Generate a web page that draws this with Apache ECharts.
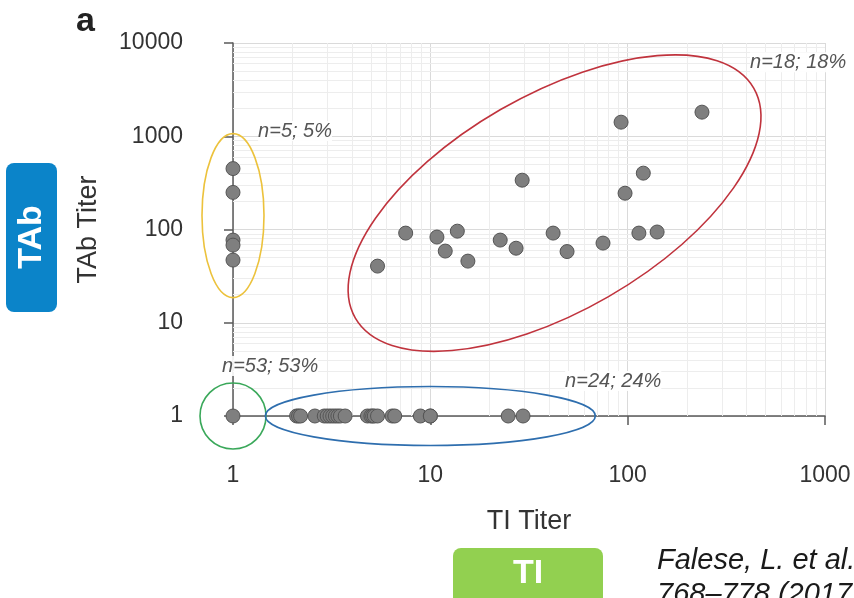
<!DOCTYPE html>
<html>
<head>
<meta charset="utf-8">
<script src="https://cdn.jsdelivr.net/npm/echarts@6/dist/echarts.min.js"></script>
<style>
  html, body { margin: 0; padding: 0; background: #fff; }
  #main { width: 854px; height: 598px; }
</style>
</head>
<body>
<div id="main"></div>
<script>
var FONT = '"Liberation Sans", Arial, sans-serif';

// TAb-only (TI titer = 1)
var tabOnlyY = [450, 250, 77, 68, 47];
// TI-only (TAb titer = 1)
var tiOnlyX = [2.1, 2.15, 2.2, 2.6, 2.9, 3.0, 3.1, 3.2, 3.3, 3.4, 3.5, 3.7,
               4.8, 5.0, 5.1, 5.2, 5.4, 6.4, 6.6, 8.9, 10, 10, 24.8, 29.5];
// both positive
var bothTI  = [5.4, 7.5, 10.8, 11.9, 13.7, 15.5, 22.6, 27.2, 29.2, 41.9, 49.3, 75, 92.6, 97, 114, 120, 141, 238];
var bothTAb = [40.5, 91.5, 83, 58.7, 96, 45.8, 77, 63, 338, 91.5, 58, 71.5, 1416, 245, 91.5, 402, 94, 1813];
// both negative
var negPoint = [1, 1];

var xTicks = [1, 10, 100, 1000];
var yTicks = [1, 10, 100, 1000, 10000];
var minorX = [2, 3, 4, 5, 6, 7, 8, 9, 20, 30, 40, 50, 60, 70, 80, 90,
              200, 300, 400, 500, 600, 700, 800, 900];
var minorY = [2, 3, 4, 5, 6, 7, 8, 9, 20, 30, 40, 50, 60, 70, 80, 90,
              200, 300, 400, 500, 600, 700, 800, 900,
              2000, 3000, 4000, 5000, 6000, 7000, 8000, 9000];

var points = [negPoint];
tabOnlyY.forEach(function (v) { points.push([1, v]); });
tiOnlyX.forEach(function (v) { points.push([v, 1]); });
bothTI.forEach(function (v, i) { points.push([v, bothTAb[i]]); });

var axisCol = '#5a5a5a';
function plain(v) { return String(Math.round(v)); }

var chart = echarts.init(document.getElementById('main'));
var option = {
  animation: false,
  backgroundColor: '#fff',
  grid: { left: 233, right: 29, top: 43, bottom: 182 },
  xAxis: {
    type: 'log', logBase: 10, min: xTicks[0], max: xTicks[xTicks.length - 1],
    name: 'TI Titer', nameLocation: 'middle', nameGap: 92,
    nameTextStyle: { fontSize: 27, color: '#333', fontFamily: FONT },
    axisLine: { show: true, onZero: false, lineStyle: { color: axisCol, width: 1.5 } },
    axisTick: { show: true, length: 9, lineStyle: { color: axisCol, width: 1.5 } },
    axisLabel: { margin: 48, fontSize: 23, color: '#333', fontFamily: FONT, formatter: plain },
    splitLine: { show: true, lineStyle: { color: '#dadada', width: 1 } }
  },
  yAxis: {
    type: 'log', logBase: 10, min: yTicks[0], max: yTicks[yTicks.length - 1],
    name: 'TAb Titer', nameLocation: 'middle', nameGap: 131, nameRotate: 90,
    nameTextStyle: { fontSize: 27, color: '#333', fontFamily: FONT },
    axisLine: { show: true, onZero: false, lineStyle: { color: axisCol, width: 1.5 } },
    axisTick: { show: true, length: 9, lineStyle: { color: axisCol, width: 1.5 } },
    axisLabel: { margin: 50, fontSize: 23, color: '#333', fontFamily: FONT, formatter: plain },
    splitLine: { show: true, lineStyle: { color: '#dadada', width: 1 } }
  },
  series: [
    {
      type: 'scatter', data: [], z: 1, silent: true,
      markLine: {
        silent: true, symbol: 'none', label: { show: false },
        lineStyle: { color: '#ededed', width: 1, type: 'solid' },
        data: minorX.map(function (v) { return { xAxis: v }; })
          .concat(minorY.map(function (v) { return { yAxis: v }; }))
      }
    },
    {
      type: 'scatter', z: 5,
      data: points,
      symbolSize: 14,
      itemStyle: { color: '#7f7f7f', borderColor: '#555', borderWidth: 1, opacity: 1 }
    }
  ]
};
chart.setOption(option);

// annotation ellipses: centre in data units, radii in px
var rings = [
  { c: [1, 141], rx: 31, ry: 82, rot: 0, color: '#ecc23c' },
  { c: [42.6, 192], rx: 230, ry: 108, rot: 30, color: '#c0333d' },
  { c: [1, 1], rx: 33, ry: 33, rot: 0, color: '#3aa85a' },
  { c: [10, 1], rx: 165, ry: 29.5, rot: 0, color: '#2e6eae' }
];
var notes = [
  { at: [1.34, 1135], text: 'n=5; 5%' },
  { at: [417, 6225], text: 'n=18; 18%' },
  { at: [0.88, 3.43], text: 'n=53; 53%' },
  { at: [48.2, 2.37], text: 'n=24; 24%' }
];

function px(p) { return chart.convertToPixel({ gridIndex: 0 }, p); }

var graphics = [];
rings.forEach(function (r) {
  var c = px(r.c);
  graphics.push({
    type: 'ellipse', x: c[0], y: c[1], rotation: r.rot * Math.PI / 180,
    shape: { cx: 0, cy: 0, rx: r.rx, ry: r.ry },
    style: { fill: null, stroke: r.color, lineWidth: 1.6 },
    silent: true, z: 50
  });
});
notes.forEach(function (n) {
  var p = px(n.at);
  // white backing so grid lines do not run through the label
  graphics.push({
    type: 'text', x: p[0], y: p[1], z: 120, silent: true,
    style: { text: n.text, font: 'italic 20px ' + FONT, fill: '#555',
             textAlign: 'left', textVerticalAlign: 'middle',
             backgroundColor: 'rgba(255,255,255,0.9)' }
  });
});
graphics.push(
  { type: 'text', x: 76, y: 22, z: 100,
    style: { text: 'a', font: 'bold 34px ' + FONT, fill: '#222', textVerticalAlign: 'middle' } },
  { type: 'rect', shape: { x: 6, y: 163, width: 51, height: 149, r: 8 },
    style: { fill: '#0b84c9' }, z: 100 },
  { type: 'text', x: 32, y: 237, rotation: Math.PI / 2, z: 110,
    style: { text: 'TAb', font: 'bold 34px ' + FONT, fill: '#fff',
             textAlign: 'center', textVerticalAlign: 'middle' } },
  { type: 'rect', shape: { x: 453, y: 548, width: 150, height: 64, r: 8 },
    style: { fill: '#92d050' }, z: 100 },
  { type: 'text', x: 528, y: 574, z: 110,
    style: { text: 'TI', font: 'bold 34px ' + FONT, fill: '#fff',
             textAlign: 'center', textVerticalAlign: 'middle' } },
  { type: 'text', x: 657, y: 561, z: 110,
    style: { text: 'Falese, L. et al.', font: 'italic 29px ' + FONT, fill: '#1a1a1a',
             textVerticalAlign: 'middle' } },
  { type: 'text', x: 657, y: 595, z: 110,
    style: { text: '768\u2013778 (2017).', font: 'italic 29px ' + FONT, fill: '#1a1a1a',
             textVerticalAlign: 'middle' } }
);
chart.setOption({ graphic: { elements: graphics } });

window.addEventListener('resize', function () {
  chart.resize();
});
</script>
</body>
</html>
